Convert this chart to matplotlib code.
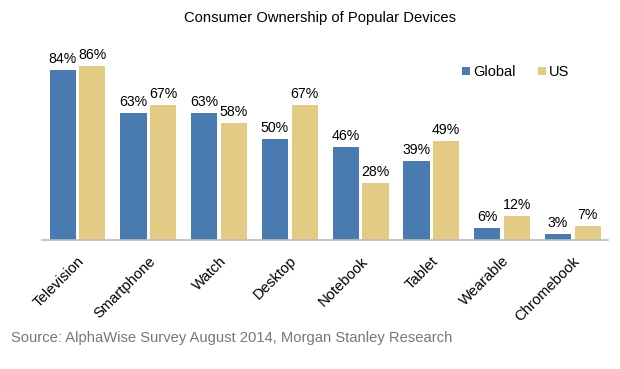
import numpy as np
import matplotlib.pyplot as plt

plt.rcParams['font.family'] = ['Liberation Sans', 'DejaVu Sans']

devices = ['Television', 'Smartphone', 'Watch', 'Desktop', 'Notebook', 'Tablet', 'Wearable', 'Chromebook']
global_pct = [84, 63, 63, 50, 46, 39, 6, 3]
us_pct = [86, 67, 58, 67, 28, 49, 12, 7]

blue = '#4a7bb0'
tan = '#e3cb85'

fig = plt.figure(figsize=(6.2, 3.69), dpi=100)
ax = fig.add_axes([0.068, 0.35, 0.913, 0.547])

x = np.arange(len(devices))
w = 0.37
b1 = ax.bar(x - w / 2 - 0.025, global_pct, w, color=blue, label='Global')
b2 = ax.bar(x + w / 2 + 0.025, us_pct, w, color=tan, label='US')

for bars, vals in ((b1, global_pct), (b2, us_pct)):
    for r, v in zip(bars, vals):
        ax.text(r.get_x() + r.get_width() / 2, v + 2, f'{v}%', ha='center', va='bottom', fontsize=10.2)

ax.set_xlim(-0.5, len(devices) - 0.5)
ax.set_ylim(0, 100)
ax.set_yticks([])
ax.set_xticks(x)
ax.set_xticklabels(devices, rotation=45, ha='right', rotation_mode='anchor', fontsize=10.6)
ax.tick_params(axis='x', length=0, pad=10)
for s in ['top', 'right', 'left']:
    ax.spines[s].set_visible(False)
ax.spines['bottom'].set_color('#bbbbbb')
ax.spines['bottom'].set_linewidth(1.2)

ax.legend(loc='upper right', bbox_to_anchor=(0.955, 0.93), ncol=2, frameon=False, fontsize=10.5,
          handlelength=0.55, handleheight=0.55, handletextpad=0.25, columnspacing=1.5)

fig.text(0.516, 0.95, 'Consumer Ownership of Popular Devices', ha='center', va='center', fontsize=10.6)
fig.text(0.018, 0.085, 'Source: AlphaWise Survey August 2014, Morgan Stanley Research', ha='left', va='center',
         fontsize=10.65, color='#777777')

fig.savefig('out.png', dpi=100)
